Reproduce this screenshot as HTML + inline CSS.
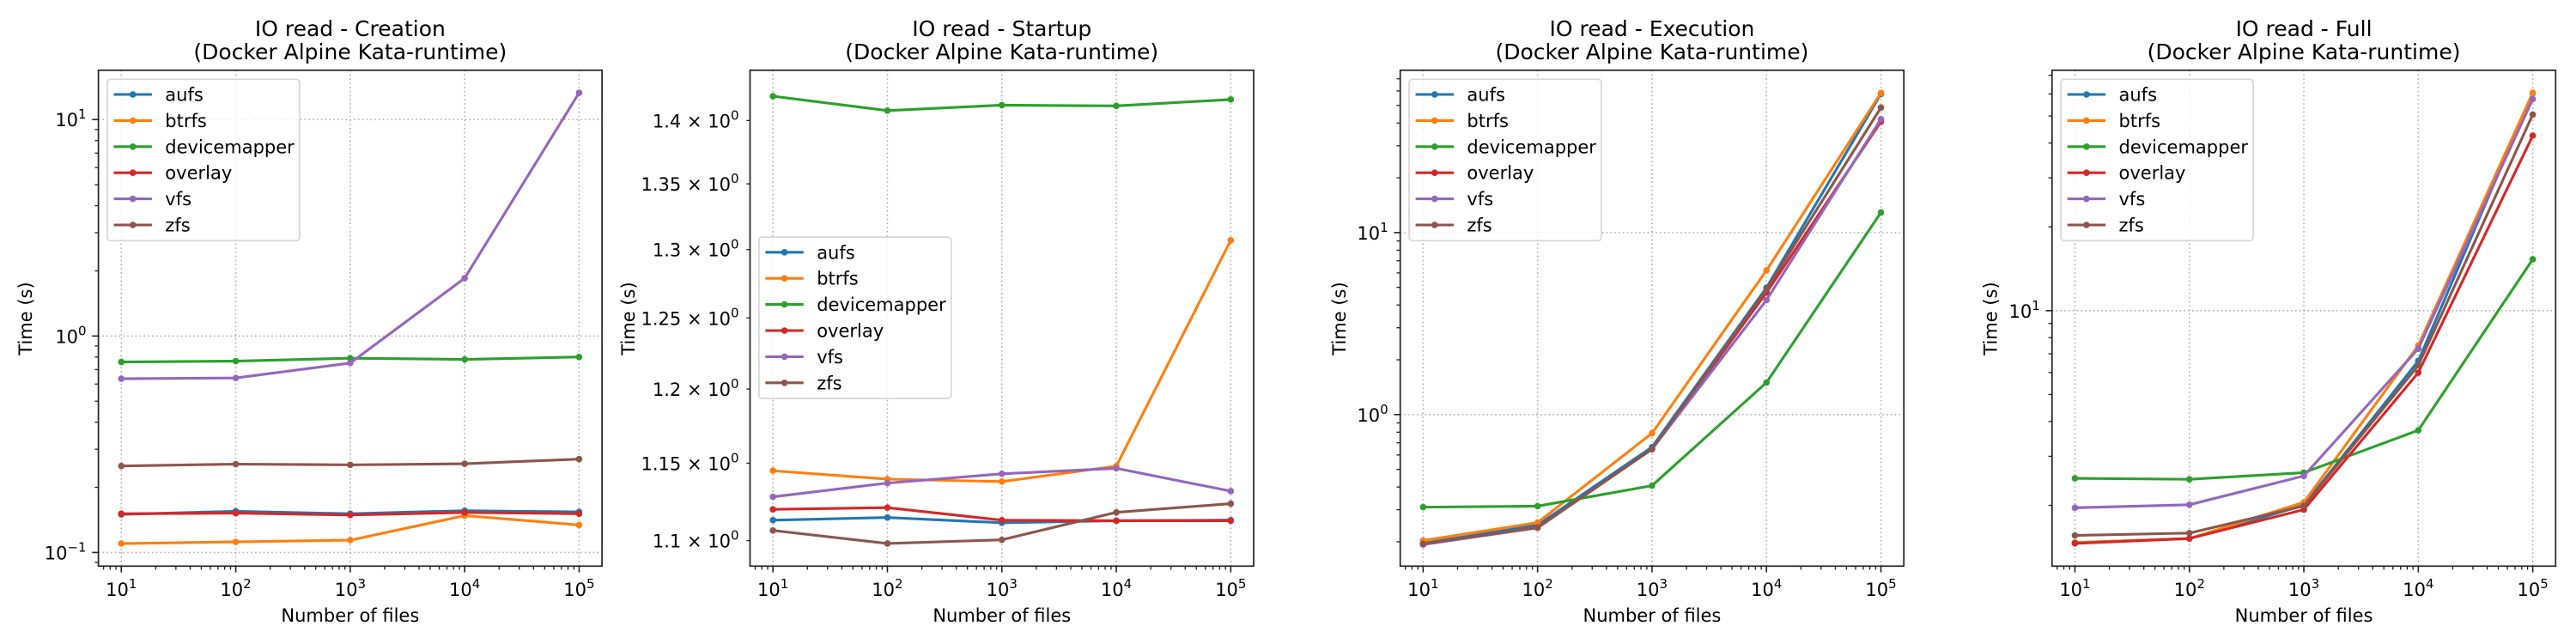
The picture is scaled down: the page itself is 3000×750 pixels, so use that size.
<!DOCTYPE html>
<html><head><meta charset="utf-8"><style>
html,body{margin:0;padding:0;background:#fff;}
svg{display:block;font-family:"DejaVu Sans","Liberation Sans",sans-serif;}
</style></head>
<body>
<svg id="fig" width="3000" height="750" viewBox="0 0 3000 750" xmlns="http://www.w3.org/2000/svg"></svg>
<script>
const fileCounts=[10,100,1000,10000,100000];
const seriesNames=["aufs","btrfs","devicemapper","overlay","vfs","zfs"];
const seriesColors=["#1f77b4","#ff7f0e","#2ca02c","#d62728","#9467bd","#8c564b"];
const xTickLabels=["1","2","3","4","5"];
// Creation
const creationAufs=[0.150,0.155,0.151,0.156,0.154];
const creationBtrfs=[0.110,0.112,0.114,0.148,0.134];
const creationDevicemapper=[0.759,0.766,0.790,0.780,0.800];
const creationOverlay=[0.151,0.152,0.149,0.153,0.151];
const creationVfs=[0.635,0.640,0.750,1.85,13.3];
const creationZfs=[0.251,0.256,0.254,0.257,0.270];
// Startup
const startupAufs=[1.113,1.1147,1.1113,1.1126,1.113];
const startupBtrfs=[1.145,1.1395,1.1379,1.148,1.307];
const startupDevicemapper=[1.4197,1.408,1.4124,1.4118,1.417];
const startupOverlay=[1.1199,1.121,1.113,1.1126,1.1126];
const startupVfs=[1.128,1.1369,1.143,1.1466,1.1317];
const startupZfs=[1.1064,1.0982,1.1005,1.118,1.1236];
const startupTickValues=[1.1,1.15,1.2,1.25,1.3,1.35,1.4];
const startupTickLabels=["1.1","1.15","1.2","1.25","1.3","1.35","1.4"];
// Execution
const executionAufs=[0.196,0.247,0.663,4.98,57.8];
const executionBtrfs=[0.203,0.255,0.79,6.2,58.5];
const executionDevicemapper=[0.31,0.314,0.407,1.50,12.9];
const executionOverlay=[0.194,0.240,0.646,4.68,40.7];
const executionVfs=[0.193,0.239,0.646,4.26,42.0];
const executionZfs=[0.195,0.239,0.646,4.88,48.6];
// Full
const fullAufs=[1.47,1.52,2.0,6.6,60.3];
const fullBtrfs=[1.47,1.52,2.05,7.5,60.6];
const fullDevicemapper=[2.5,2.48,2.62,3.72,15.3];
const fullOverlay=[1.46,1.52,1.93,5.99,42.5];
const fullVfs=[1.96,2.01,2.55,7.3,57.5];
const fullZfs=[1.56,1.59,1.99,6.36,50.6];

const NS="http://www.w3.org/2000/svg";
const svg=document.getElementById('fig');
function mk(tag,attrs,parent){const e=document.createElementNS(NS,tag);for(const k in attrs)e.setAttribute(k,attrs[k]);(parent||svg).appendChild(e);return e;}

const panels=[
 {key:"creation",title:"IO read - Creation",left:114.6,ylim:[0.0865,16.9],legendTop:92.3,ylabelX:30,
  series:[creationAufs,creationBtrfs,creationDevicemapper,creationOverlay,creationVfs,creationZfs],mode:"log"},
 {key:"startup",title:"IO read - Startup",left:873.5,ylim:[1.084,1.441],legendTop:276.1,ylabelX:732,
  series:[startupAufs,startupBtrfs,startupDevicemapper,startupOverlay,startupVfs,startupZfs],mode:"sci"},
 {key:"execution",title:"IO read - Execution",left:1630.7,ylim:[0.147,78],legendTop:92.3,ylabelX:1560,
  series:[executionAufs,executionBtrfs,executionDevicemapper,executionOverlay,executionVfs,executionZfs],mode:"log"},
 {key:"full",title:"IO read - Full",left:2389.8,ylim:[1.21,73],legendTop:92.3,ylabelX:2318.4,
  series:[fullAufs,fullBtrfs,fullDevicemapper,fullOverlay,fullVfs,fullZfs],mode:"log"}
];
const TOP=81.8,BOT=659.3,W=586.5,H=BOT-TOP;
const XL=[0.8,5.2];

panels.forEach(p=>{
  const g=mk('g',{});
  
  
  const L=p.left,R=p.left+W;
  const xS=v=>L+(Math.log10(v)-XL[0])/(XL[1]-XL[0])*W;
  const ly0=Math.log10(p.ylim[0]),ly1=Math.log10(p.ylim[1]);
  const yS=v=>BOT-(Math.log10(v)-ly0)/(ly1-ly0)*H;
  const cx=L+W/2;
  // title
  const t=mk('text',{x:cx,'text-anchor':'middle','font-size':25,fill:'#000'},g);
  
  
  const t1=mk('tspan',{x:cx,y:42},t);t1.textContent=p.title;
  const t2=mk('tspan',{x:cx,y:69},t);t2.textContent="(Docker Alpine Kata-runtime)";
  // grid x
  fileCounts.forEach(v=>{
    const gl=mk('line',{x1:xS(v),x2:xS(v),y1:TOP,y2:BOT,stroke:'#b0b0b0','stroke-width':1.6,'stroke-dasharray':'1.6,3.2'},g);
    
    
  });
  // x minor ticks
  for(let d=0;d<=5;d++){for(let m=2;m<=9;m++){const v=m*Math.pow(10,d);const lv=Math.log10(v);if(lv<XL[0]||lv>XL[1])continue;
    mk('line',{x1:xS(v),x2:xS(v),y1:BOT,y2:BOT+4.2,stroke:'#222','stroke-width':1.3},g);}}
  // x major ticks + labels
  fileCounts.forEach((v,i)=>{
    mk('line',{x1:xS(v),x2:xS(v),y1:BOT,y2:BOT+7.3,stroke:'#222','stroke-width':1.6},g);
    const tl=mk('text',{x:xS(v),y:694,'text-anchor':'middle','font-size':21,fill:'#000'},g);
    
    
    const a=mk('tspan',{},tl);a.textContent="10";
    const b=mk('tspan',{dy:-9,'font-size':15},tl);b.textContent=xTickLabels[i];
  });
  // y ticks
  if(p.mode==="log"){
    for(let d=-2;d<=2;d++){
      for(let m=1;m<=9;m++){
        const v=m*Math.pow(10,d);
        if(v<p.ylim[0]||v>p.ylim[1])continue;
        const y=yS(v);
        if(m===1){
          const gl=mk('line',{x1:L,x2:R,y1:y,y2:y,stroke:'#b0b0b0','stroke-width':1.6,'stroke-dasharray':'1.6,3.2'},g);
          
          
          mk('line',{x1:L-7.3,x2:L,y1:y,y2:y,stroke:'#222','stroke-width':1.6},g);
          const tl=mk('text',{x:L-14,y:y+8,'text-anchor':'end','font-size':21,fill:'#000'},g);
          
          
          const a=mk('tspan',{},tl);a.textContent="10";
          const b=mk('tspan',{dy:-9,'font-size':15},tl);b.textContent=(d<0?"\u2212":"")+Math.abs(d);
        } else {
          mk('line',{x1:L-4.2,x2:L,y1:y,y2:y,stroke:'#222','stroke-width':1.3},g);
        }
      }
    }
  } else {
    startupTickValues.forEach((v,i)=>{
      const y=yS(v);
      mk('line',{x1:L-4.2,x2:L,y1:y,y2:y,stroke:'#222','stroke-width':1.3},g);
      const tl=mk('text',{x:L-13,y:y+8,'text-anchor':'end','font-size':21,fill:'#000'},g);
      
      
      const a=mk('tspan',{},tl);a.textContent=startupTickLabels[i]+" \u00d7 10";
      const b=mk('tspan',{dy:-9,'font-size':15},tl);b.textContent="0";
    });
  }
  // series
  p.series.forEach((vals,si)=>{
    const sg=mk('g',{},g);
    
    
    const pts=vals.map((v,i)=>xS(fileCounts[i]).toFixed(2)+','+yS(v).toFixed(2)).join(' ');
    mk('polyline',{points:pts,fill:'none',stroke:seriesColors[si],'stroke-width':3.1,'stroke-linejoin':'round','stroke-linecap':'square'},sg);
    vals.forEach((v,i)=>{
      const c=mk('circle',{cx:xS(fileCounts[i]),cy:yS(v),r:3.8,fill:seriesColors[si]},sg);
      
      
    });
  });
  // frame
  const fr=mk('rect',{x:L,y:TOP,width:W,height:H,fill:'none',stroke:'#222','stroke-width':1.7},g);
  
  
  // legend
  const lg=mk('g',{},g);
  
  
  const lx=L+10.3,ly=p.legendTop;
  mk('rect',{x:lx,y:ly,width:224,height:188,rx:4,fill:'#fff','fill-opacity':0.8,stroke:'#d6d6d6','stroke-width':1.7},lg);
  seriesNames.forEach((n,i)=>{
    const ey=ly+17.7+i*30.4;
    const eg=mk('g',{},lg);
    
    
    mk('line',{x1:lx+7.6,x2:lx+52,y1:ey,y2:ey,stroke:seriesColors[i],'stroke-width':3.1},eg);
    mk('circle',{cx:lx+29.8,cy:ey,r:3.8,fill:seriesColors[i]},eg);
    const tx=mk('text',{x:lx+67.4,y:ey+7.5,'font-size':21,fill:'#000'},eg);
    tx.textContent=n;
  });
  // axis labels
  const xl=mk('text',{x:cx,y:724,'text-anchor':'middle','font-size':21,fill:'#000'},g);
  
  
  xl.textContent="Number of files";
  const yl=mk('text',{x:0,y:0,'text-anchor':'middle','font-size':21,fill:'#000',transform:`translate(${p.ylabelX+7},371) rotate(-90)`},g);
  
  
  yl.textContent="Time (s)";
});
</script>
</body></html>
